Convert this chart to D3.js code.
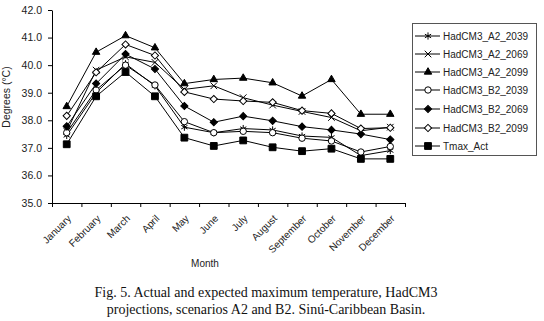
<!DOCTYPE html>
<html>
<head>
<meta charset="utf-8">
<script src="https://cdn.jsdelivr.net/npm/d3@7"></script>
<style>
  body { margin: 0; background: #fff; }
  svg { display: block; }
  .axis text { font-family: "Liberation Sans", Arial, sans-serif; font-size: 10px; fill: #222; }
  .y-axis text { font-size: 10.5px; }
  .axis path, .axis line { stroke: #000; }
</style>
</head>
<body>
<div id="chart"></div>
<script>

// months on the x axis
var months = ["January", "February", "March", "April", "May", "June", "July",
	"August", "September", "October", "November", "December"];

// series values (degrees C)
var a2_2039 = [37.45, 39.00, 40.05, 39.25, 37.75, 37.55, 37.70, 37.65, 37.43, 37.38, 36.72, 36.90];
var a2_2069 = [37.60, 39.82, 40.30, 40.10, 39.12, 39.25, 38.82, 38.55, 38.32, 38.10, 37.62, 37.75];
var a2_2099 = [38.50, 40.47, 41.07, 40.63, 39.33, 39.48, 39.53, 39.36, 38.88, 39.48, 38.22, 38.22];
var b2_2039 = [37.55, 39.10, 40.00, 39.28, 37.95, 37.55, 37.60, 37.55, 37.35, 37.25, 36.85, 37.05];
var b2_2069 = [37.78, 39.33, 40.40, 39.86, 38.52, 37.93, 38.15, 37.98, 37.77, 37.65, 37.50, 37.30];
var b2_2099 = [38.16, 39.74, 40.75, 40.35, 39.03, 38.77, 38.70, 38.65, 38.35, 38.25, 37.70, 37.73];
var tmax_act = [37.13, 38.87, 39.75, 38.87, 37.37, 37.07, 37.27, 37.02, 36.88, 36.97, 36.60, 36.60];

var series_names = ["HadCM3_A2_2039", "HadCM3_A2_2069", "HadCM3_A2_2099",
	"HadCM3_B2_2039", "HadCM3_B2_2069", "HadCM3_B2_2099", "Tmax_Act"];
var series_values = [a2_2039, a2_2069, a2_2099, b2_2039, b2_2069, b2_2099, tmax_act];

// y tick labels
var y_ticks = [35, 36, 37, 38, 39, 40, 41, 42];

var caption = ["Fig. 5. Actual and expected maximum temperature, HadCM3",
	"projections, scenarios A2 and B2. Sinú-Caribbean Basin."];

// --------------------------------------------------------

var chart_width  = 544;
var chart_height = 321;
var left = 52, right = 405, top_y = 10, bottom_y = 203;

var svg = d3.select("#chart")
	.append("svg")
	.attr("width", chart_width)
	.attr("height", chart_height);

// scales
var x_scale = d3.scaleBand()
	.domain(months)
	.range([left, right])
	.padding(0);

var x_edges = d3.scaleLinear()
	.domain([0, months.length])
	.range([left, right]);

var y_scale = d3.scaleLinear()
	.domain([35, 42])
	.range([bottom_y, top_y]);

// --------------------------------------------------------
// axes

svg.append("g")
	.attr("class", "axis y-axis")
	.attr("transform", "translate(" + left + ",0)")
	.call(d3.axisLeft(y_scale)
		.tickValues(y_ticks)
		.tickSize(4)
		.tickSizeOuter(0)
		.tickFormat(d3.format(".1f")))
	.call(g => g.selectAll("text").attr("x", -10));

// tick marks at band edges
svg.append("g")
	.attr("class", "axis")
	.attr("transform", "translate(0," + bottom_y + ")")
	.call(d3.axisBottom(x_edges)
		.tickValues(d3.range(0, months.length + 1))
		.tickSize(4)
		.tickSizeOuter(0)
		.tickFormat(""));

// month labels, rotated
svg.append("g")
	.attr("class", "axis")
	.attr("transform", "translate(0," + bottom_y + ")")
	.call(d3.axisBottom(x_scale).tickSize(0))
	.call(g => g.select(".domain").remove())
	.selectAll("text")
	.attr("text-anchor", "end")
	.attr("dy", "0")
	.attr("transform", "translate(3,14) rotate(-45)");

// axis titles
svg.append("text")
	.attr("transform", "translate(10,97) rotate(-90)")
	.attr("text-anchor", "middle")
	.style("font-family", "Liberation Sans, Arial, sans-serif")
	.style("font-size", "10.5px")
	.style("fill", "#222")
	.text("Degrees (°C)");

svg.append("text")
	.attr("x", 205)
	.attr("y", 267)
	.attr("text-anchor", "middle")
	.style("font-family", "Liberation Sans, Arial, sans-serif")
	.style("font-size", "10px")
	.style("fill", "#222")
	.text("Month");

// --------------------------------------------------------
// markers

var markers = [
	{ type: d3.symbolAsterisk, size: 36, fill: "none", rot: 0 },
	{ type: d3.symbolTimes, size: 30, fill: "none", rot: 0 },
	{ type: d3.symbolTriangle, size: 24, fill: "#000", rot: 0 },
	{ type: d3.symbolCircle, size: 32, fill: "#fff", rot: 0 },
	{ type: d3.symbolSquare, size: 26, fill: "#000", rot: 45 },
	{ type: d3.symbolSquare, size: 26, fill: "#fff", rot: 45 },
	{ type: d3.symbolSquare, size: 46, fill: "#000", rot: 0 }
];

function draw_marker(g, i, cx, cy) {
	var m = markers[i];
	g.append("path")
		.attr("d", d3.symbol().type(m.type).size(m.size)())
		.attr("transform", "translate(" + cx + "," + cy + ") rotate(" + m.rot + ")")
		.attr("fill", m.fill)
		.attr("stroke", "#000")
		.attr("stroke-width", 1);
}

var line = d3.line()
	.x((d, i) => x_scale(months[i]) + x_scale.bandwidth() / 2)
	.y(d => y_scale(d));

var plot = svg.append("g");

series_values.forEach((vals) => {
	plot.append("path")
		.attr("d", line(vals))
		.attr("fill", "none")
		.attr("stroke", "#000")
		.attr("stroke-width", 1);
});

series_values.forEach((vals, s) => {
	vals.forEach((v, i) => {
		draw_marker(plot, s, x_scale(months[i]) + x_scale.bandwidth() / 2, y_scale(v));
	});
});

// --------------------------------------------------------
// legend

var legend = svg.append("g");
legend.append("rect")
	.attr("x", 412.5)
	.attr("y", 23.5)
	.attr("width", 124)
	.attr("height", 132)
	.attr("fill", "#fff")
	.attr("stroke", "#555");

var legend_y = [36, 54, 72, 90, 109, 128, 146];

series_names.forEach((name, i) => {
	var gy = legend_y[i];
	legend.append("line")
		.attr("x1", 415).attr("x2", 440)
		.attr("y1", gy).attr("y2", gy)
		.attr("stroke", "#000");
	draw_marker(legend, i, 428, gy);
	legend.append("text")
		.attr("x", 443)
		.attr("y", gy + 3.5)
		.style("font-family", "Liberation Sans, Arial, sans-serif")
		.style("font-size", "10px")
		.style("fill", "#222")
		.text(name);
});

// --------------------------------------------------------
// caption

svg.append("g")
	.selectAll("text")
	.data(caption)
	.enter()
	.append("text")
	.attr("x", 266)
	.attr("y", (d, i) => 297 + i * 17)
	.attr("text-anchor", "middle")
	.style("font-family", "Liberation Serif, Times New Roman, serif")
	.style("font-size", "14px")
	.style("fill", "#111")
	.text(d => d);

</script>
</body>
</html>
